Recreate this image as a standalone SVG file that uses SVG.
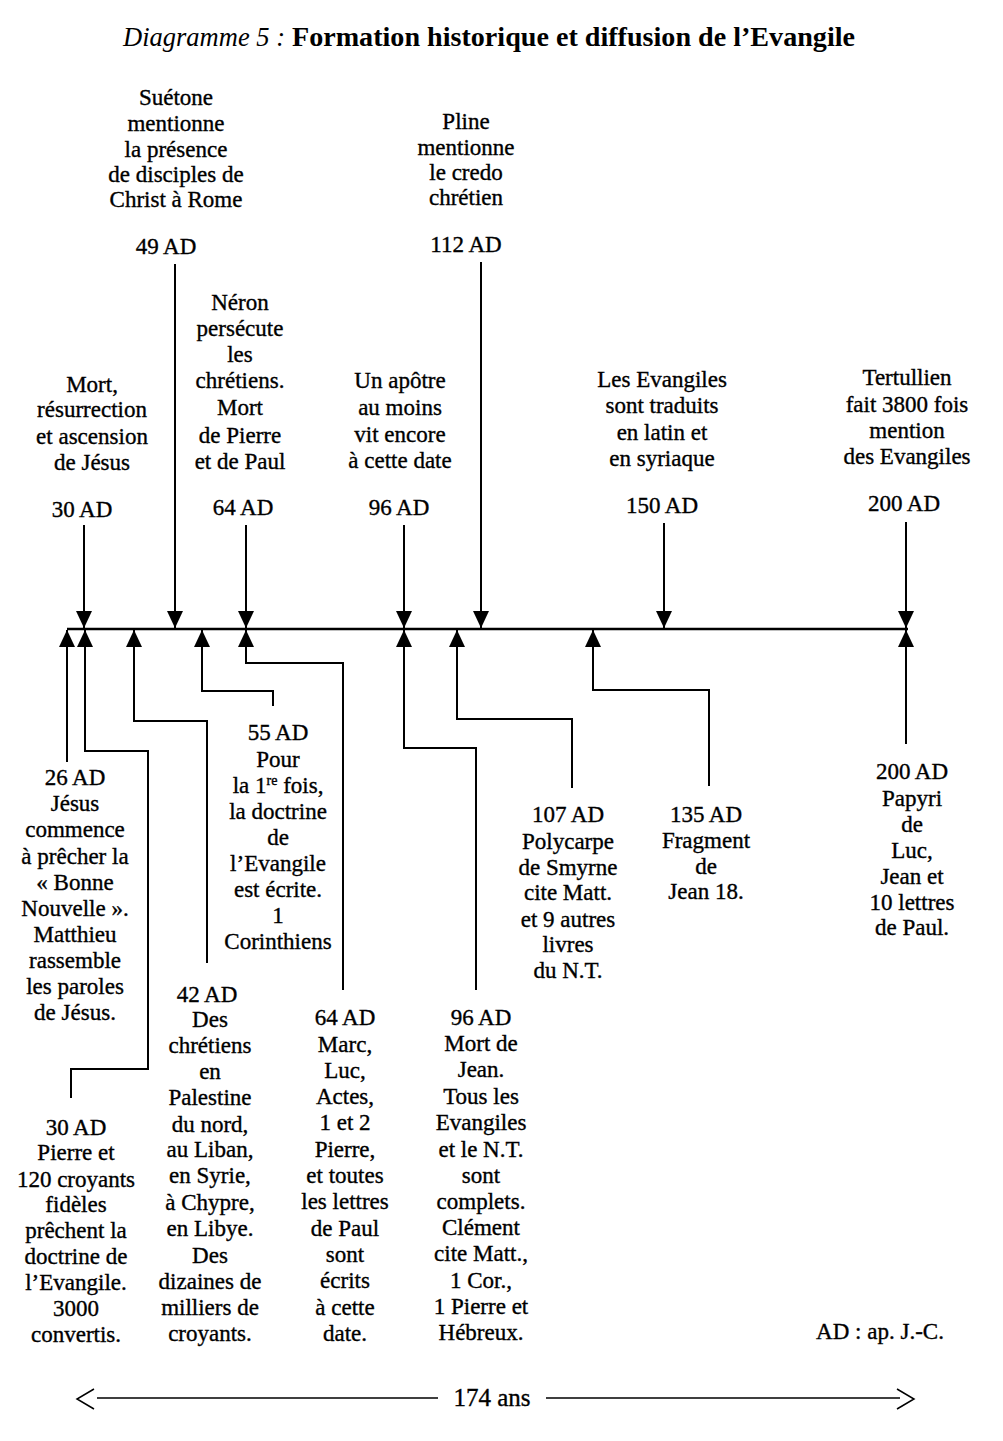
<svg xmlns="http://www.w3.org/2000/svg" width="1003" height="1441" viewBox="0 0 1003 1441">
<style>
.t{font-family:"Liberation Serif","Times New Roman",serif;font-size:23px;text-anchor:middle;fill:#000;stroke:#000;stroke-width:0.35}
.c{fill:none;stroke:#000;stroke-width:2}
.tl{fill:none;stroke:#000;stroke-width:2.5}
.thin{fill:none;stroke:#000;stroke-width:1.5}
</style>
<defs>
<marker id="ah" viewBox="0 0 17 16" refX="17" refY="8" markerWidth="17" markerHeight="16" markerUnits="userSpaceOnUse" orient="auto">
<path d="M0,0 L17,8 L0,16 z" fill="#000"/>
</marker>
</defs>
<rect width="1003" height="1441" fill="#fff"/>
<g id="title">
<text x="123" y="46" style="font-family:'Liberation Serif',serif;font-size:27px;font-style:italic" textLength="162" lengthAdjust="spacingAndGlyphs">Diagramme 5 :</text>
<text x="292" y="46" style="font-family:'Liberation Serif',serif;font-size:27px;font-weight:bold" textLength="563" lengthAdjust="spacingAndGlyphs">Formation historique et diffusion de l’Evangile</text>
</g>
<g id="connectors">
<path class="tl" d="M67,629 H908"/>
<path class="c" marker-end="url(#ah)" d="M84,525 V628"/>
<path class="c" marker-end="url(#ah)" d="M175,264 V628"/>
<path class="c" marker-end="url(#ah)" d="M246,525 V628"/>
<path class="c" marker-end="url(#ah)" d="M404,525 V628"/>
<path class="c" marker-end="url(#ah)" d="M481,262 V628"/>
<path class="c" marker-end="url(#ah)" d="M664,523 V628"/>
<path class="c" marker-end="url(#ah)" d="M906,522 V628"/>
<path class="c" marker-end="url(#ah)" d="M67,762 V630"/>
<path class="c" marker-end="url(#ah)" d="M71,1098 V1069 H148 V751 H85 V630"/>
<path class="c" marker-end="url(#ah)" d="M207,963 V721 H134 V630"/>
<path class="c" marker-end="url(#ah)" d="M273,706 V691 H202 V630"/>
<path class="c" marker-end="url(#ah)" d="M343,990 V663 H246 V630"/>
<path class="c" marker-end="url(#ah)" d="M476,990 V748 H404 V630"/>
<path class="c" marker-end="url(#ah)" d="M572,788 V719 H457 V630"/>
<path class="c" marker-end="url(#ah)" d="M709,786 V690 H593 V630"/>
<path class="c" marker-end="url(#ah)" d="M906,744 V630"/>
<path class="thin" d="M97,1398 H438 M546,1398 H900"/>
<path class="thin" d="M94,1389 L77,1399 L94,1409 M897,1389 L914,1399 L897,1409"/>
</g>
<g id="n-49">
<text class="t"><tspan x="176" y="105">Suétone</tspan><tspan x="176" y="131">mentionne</tspan><tspan x="176" y="157">la présence</tspan><tspan x="176" y="182">de disciples de</tspan><tspan x="176" y="207">Christ à Rome</tspan><tspan x="166" y="254">49 AD</tspan></text>
</g>
<g id="n-112">
<text class="t"><tspan x="466" y="129">Pline</tspan><tspan x="466" y="155">mentionne</tspan><tspan x="466" y="180">le credo</tspan><tspan x="466" y="205">chrétien</tspan><tspan x="466" y="252">112 AD</tspan></text>
</g>
<g id="n-64top">
<text class="t"><tspan x="240" y="310">Néron</tspan><tspan x="240" y="336">persécute</tspan><tspan x="240" y="362">les</tspan><tspan x="240" y="388">chrétiens.</tspan><tspan x="240" y="415">Mort</tspan><tspan x="240" y="443">de Pierre</tspan><tspan x="240" y="469">et de Paul</tspan><tspan x="243" y="515">64 AD</tspan></text>
</g>
<g id="n-30top">
<text class="t"><tspan x="92" y="392">Mort,</tspan><tspan x="92" y="417">résurrection</tspan><tspan x="92" y="444">et ascension</tspan><tspan x="92" y="470">de Jésus</tspan><tspan x="82" y="517">30 AD</tspan></text>
</g>
<g id="n-96top">
<text class="t"><tspan x="400" y="388">Un apôtre</tspan><tspan x="400" y="415">au moins</tspan><tspan x="400" y="442">vit encore</tspan><tspan x="400" y="468">à cette date</tspan><tspan x="399" y="515">96 AD</tspan></text>
</g>
<g id="n-150">
<text class="t"><tspan x="662" y="387">Les Evangiles</tspan><tspan x="662" y="413">sont traduits</tspan><tspan x="662" y="440">en latin et</tspan><tspan x="662" y="466">en syriaque</tspan><tspan x="662" y="513">150 AD</tspan></text>
</g>
<g id="n-200top">
<text class="t"><tspan x="907" y="385">Tertullien</tspan><tspan x="907" y="412">fait 3800 fois</tspan><tspan x="907" y="438">mention</tspan><tspan x="907" y="464">des Evangiles</tspan><tspan x="904" y="511">200 AD</tspan></text>
</g>
<g id="n-26">
<text class="t"><tspan x="75" y="785">26 AD</tspan><tspan x="75" y="811">Jésus</tspan><tspan x="75" y="837">commence</tspan><tspan x="75" y="864">à prêcher la</tspan><tspan x="75" y="890">« Bonne</tspan><tspan x="75" y="916">Nouvelle ».</tspan><tspan x="75" y="942">Matthieu</tspan><tspan x="75" y="968">rassemble</tspan><tspan x="75" y="994">les paroles</tspan><tspan x="75" y="1020">de Jésus.</tspan></text>
</g>
<g id="n-30bottom">
<text class="t"><tspan x="76" y="1135">30 AD</tspan><tspan x="76" y="1160">Pierre et</tspan><tspan x="76" y="1187">120 croyants</tspan><tspan x="76" y="1212">fidèles</tspan><tspan x="76" y="1238">prêchent la</tspan><tspan x="76" y="1264">doctrine de</tspan><tspan x="76" y="1290">l’Evangile.</tspan><tspan x="76" y="1316">3000</tspan><tspan x="76" y="1342">convertis.</tspan></text>
</g>
<g id="n-55">
<text class="t"><tspan x="278" y="740">55 AD</tspan><tspan x="278" y="767">Pour</tspan><tspan x="278" y="793">la 1</tspan><tspan font-size="14" dy="-8">re</tspan><tspan dy="8"> fois,</tspan><tspan x="278" y="819">la doctrine</tspan><tspan x="278" y="845">de</tspan><tspan x="278" y="871">l’Evangile</tspan><tspan x="278" y="897">est écrite.</tspan><tspan x="278" y="923">1</tspan><tspan x="278" y="949">Corinthiens</tspan></text>
</g>
<g id="n-42">
<text class="t"><tspan x="207" y="1002">42 AD</tspan><tspan x="210" y="1027">Des</tspan><tspan x="210" y="1053">chrétiens</tspan><tspan x="210" y="1079">en</tspan><tspan x="210" y="1105">Palestine</tspan><tspan x="210" y="1132">du nord,</tspan><tspan x="210" y="1157">au Liban,</tspan><tspan x="210" y="1183">en Syrie,</tspan><tspan x="210" y="1210">à Chypre,</tspan><tspan x="210" y="1236">en Libye.</tspan><tspan x="210" y="1263">Des</tspan><tspan x="210" y="1289">dizaines de</tspan><tspan x="210" y="1315">milliers de</tspan><tspan x="210" y="1341">croyants.</tspan></text>
</g>
<g id="n-64bottom">
<text class="t"><tspan x="345" y="1025">64 AD</tspan><tspan x="345" y="1052">Marc,</tspan><tspan x="345" y="1078">Luc,</tspan><tspan x="345" y="1104">Actes,</tspan><tspan x="345" y="1130">1 et 2</tspan><tspan x="345" y="1157">Pierre,</tspan><tspan x="345" y="1183">et toutes</tspan><tspan x="345" y="1209">les lettres</tspan><tspan x="345" y="1236">de Paul</tspan><tspan x="345" y="1262">sont</tspan><tspan x="345" y="1288">écrits</tspan><tspan x="345" y="1315">à cette</tspan><tspan x="345" y="1341">date.</tspan></text>
</g>
<g id="n-96bottom">
<text class="t"><tspan x="481" y="1025">96 AD</tspan><tspan x="481" y="1051">Mort de</tspan><tspan x="481" y="1077">Jean.</tspan><tspan x="481" y="1104">Tous les</tspan><tspan x="481" y="1130">Evangiles</tspan><tspan x="481" y="1157">et le N.T.</tspan><tspan x="481" y="1183">sont</tspan><tspan x="481" y="1209">complets.</tspan><tspan x="481" y="1235">Clément</tspan><tspan x="481" y="1261">cite Matt.,</tspan><tspan x="481" y="1288">1 Cor.,</tspan><tspan x="481" y="1314">1 Pierre et</tspan><tspan x="481" y="1340">Hébreux.</tspan></text>
</g>
<g id="n-107">
<text class="t"><tspan x="568" y="822">107 AD</tspan><tspan x="568" y="849">Polycarpe</tspan><tspan x="568" y="875">de Smyrne</tspan><tspan x="568" y="900">cite Matt.</tspan><tspan x="568" y="927">et 9 autres</tspan><tspan x="568" y="952">livres</tspan><tspan x="568" y="978">du N.T.</tspan></text>
</g>
<g id="n-135">
<text class="t"><tspan x="706" y="822">135 AD</tspan><tspan x="706" y="848">Fragment</tspan><tspan x="706" y="874">de</tspan><tspan x="706" y="899">Jean 18.</tspan></text>
</g>
<g id="n-200bottom">
<text class="t"><tspan x="912" y="779">200 AD</tspan><tspan x="912" y="806">Papyri</tspan><tspan x="912" y="832">de</tspan><tspan x="912" y="858">Luc,</tspan><tspan x="912" y="884">Jean et</tspan><tspan x="912" y="910">10 lettres</tspan><tspan x="912" y="935">de Paul.</tspan></text>
</g>
<g id="legend">
<text class="t" x="880" y="1339">AD : ap. J.-C.</text>
<text class="t" x="492" y="1406" style="font-size:25px">174 ans</text>
</g>
</svg>
